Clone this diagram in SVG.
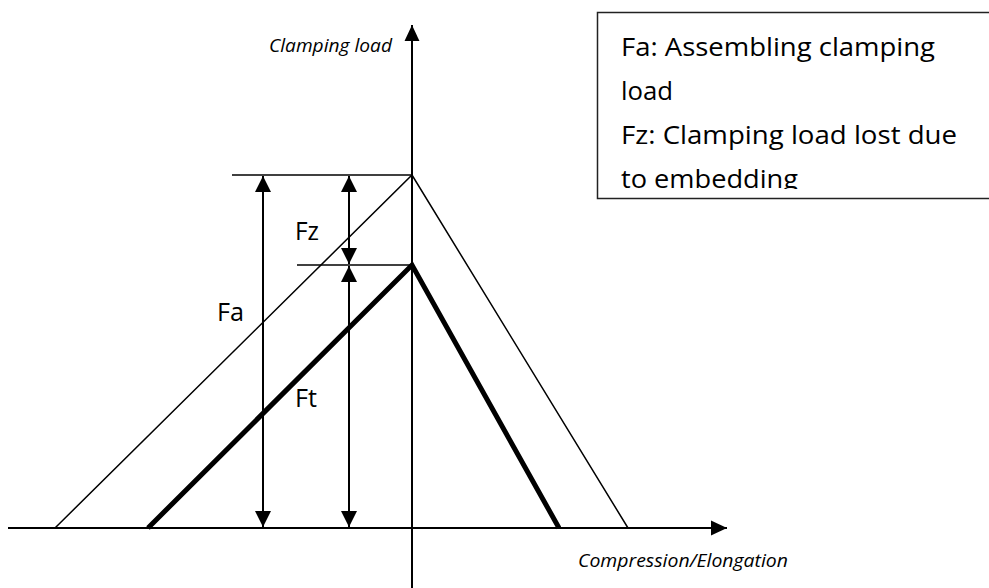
<svg xmlns="http://www.w3.org/2000/svg" width="989" height="588" viewBox="0 0 989 588">
  <style>
    .lbl { font-family: "Open Sans", "Liberation Sans", sans-serif; fill: #000; }
    .ax { font-family: "Open Sans", "Liberation Sans", sans-serif; font-style: italic; fill: #000; }
    .thin { stroke: #000; stroke-width: 1.5; fill: none; }
    .thick { stroke: #000; stroke-width: 5; fill: none; }
    .axis { stroke: #000; stroke-width: 2; fill: none; }
    .dim { stroke: #000; stroke-width: 2; fill: none; }
  </style>
  <defs>
    <marker id="ah" markerUnits="userSpaceOnUse" markerWidth="16" markerHeight="16" viewBox="0 0 15 15" refX="15" refY="7.5" orient="auto-start-reverse">
      <path d="M0,0 L15,7.5 L0,15 Z" fill="#000"/>
    </marker>
    <marker id="axh" markerUnits="userSpaceOnUse" markerWidth="16" markerHeight="16" viewBox="0 0 15 15" refX="15" refY="7.5" orient="auto">
      <path d="M0,0.5 L15,7.5 L0,14.5 Z" fill="#000"/>
    </marker>
    <clipPath id="boxclip">
      <rect x="597" y="12" width="392" height="177"/>
    </clipPath>
  </defs>
  <rect width="989" height="588" fill="#fff"/>

  <g id="axes">
    <line class="axis" x1="8" y1="528" x2="727" y2="528" marker-end="url(#axh)"/>
    <line class="axis" x1="412" y1="588" x2="412" y2="25" marker-end="url(#axh)"/>
    <text class="ax" x="269" y="52" font-size="18" textLength="123" lengthAdjust="spacingAndGlyphs">Clamping load</text>
    <text class="ax" x="578" y="567" font-size="18" textLength="210" lengthAdjust="spacingAndGlyphs">Compression/Elongation</text>
  </g>

  <g id="curves">
    <polyline class="thin" points="55,528 412,175 628,528"/>
    <polyline class="thick" points="148,528 412,265 559,528" stroke-linejoin="miter"/>
  </g>

  <g id="connectors">
    <line class="thin" x1="232" y1="175" x2="412" y2="175"/>
    <line class="thin" x1="297" y1="265" x2="412" y2="265"/>
    <line class="dim" x1="263" y1="176" x2="263" y2="527" marker-start="url(#ah)" marker-end="url(#ah)"/>
    <line class="dim" x1="349" y1="176" x2="349" y2="264" marker-start="url(#ah)" marker-end="url(#ah)"/>
    <line class="dim" x1="349" y1="266" x2="349" y2="527" marker-start="url(#ah)" marker-end="url(#ah)"/>
  </g>

  <g id="label-Fa"><text class="lbl" x="217" y="321" font-size="25" textLength="27" lengthAdjust="spacingAndGlyphs">Fa</text></g>
  <g id="label-Fz"><text class="lbl" x="295" y="240" font-size="25" textLength="24" lengthAdjust="spacingAndGlyphs">Fz</text></g>
  <g id="label-Ft"><text class="lbl" x="295" y="407" font-size="25" textLength="22" lengthAdjust="spacingAndGlyphs">Ft</text></g>

  <g id="legend">
    <rect x="597.5" y="12.5" width="400" height="186" fill="#fff" stroke="#222" stroke-width="1.5"/>
    <g clip-path="url(#boxclip)">
      <text class="lbl" x="621" y="56" font-size="26" textLength="314" lengthAdjust="spacingAndGlyphs">Fa: Assembling clamping</text>
      <text class="lbl" x="621" y="100" font-size="26" textLength="52" lengthAdjust="spacingAndGlyphs">load</text>
      <text class="lbl" x="621" y="144" font-size="26" textLength="336" lengthAdjust="spacingAndGlyphs">Fz: Clamping load lost due</text>
      <text class="lbl" x="621" y="188" font-size="26" textLength="177" lengthAdjust="spacingAndGlyphs">to embedding</text>
    </g>
  </g>
</svg>
